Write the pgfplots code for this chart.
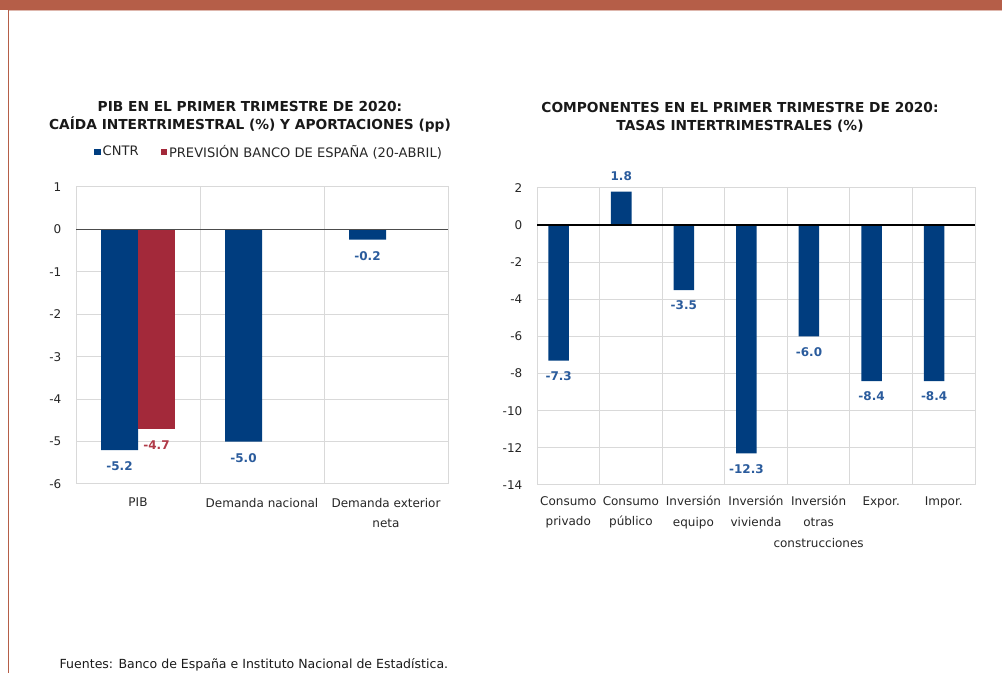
\documentclass[border=0pt]{standalone}
\usepackage{fontspec}
\setmainfont{DejaVu Sans}
\usepackage{pgfplots}
\pgfplotsset{compat=1.18}
\definecolor{cblue}{HTML}{003D7F}
\definecolor{cred}{HTML}{A3293A}
\definecolor{lblue}{HTML}{2A5B9C}
\definecolor{lred}{HTML}{B03A48}
\definecolor{framec}{HTML}{B55E48}
\definecolor{gridc}{HTML}{D9D9D9}
\definecolor{txt}{HTML}{262626}
\pgfplotsset{
  mybase/.style={
    scale only axis,
    ybar,
    axis line style={gridc, line width=0.75pt},
    grid style={gridc, line width=0.75pt},
    ymajorgrids=true, xmajorgrids=false, xminorgrids=true,
    major tick length=0pt, minor tick length=0pt,
    tick label style={font=\fontsize{9}{15}\selectfont, text=txt},
    /pgf/number format/assume math mode=true,
    yticklabel style={xshift=-7.5pt},
    nodes near coords={\pgfmathprintnumber[fixed,fixed zerofill,precision=1,assume math mode=true]{\pgfplotspointmeta}},
    clip=false,
  }
}
\begin{document}
\begin{tikzpicture}[x=0.75pt,y=0.75pt]
\useasboundingbox (0,0) rectangle (1002,673);
% frame
\fill[framec] (0,663) rectangle (1002,673);
\fill[framec!45] (9,662) rectangle (1002,663);
\fill[framec] (7.5,0) rectangle (9,663);

% titles
\node[font=\bfseries\fontsize{10.3}{13.5}\selectfont, align=center, text=black!90] at (250,556)
  {PIB EN EL PRIMER TRIMESTRE DE 2020:\\CAÍDA INTERTRIMESTRAL (\%) Y APORTACIONES (pp)};
\node[font=\bfseries\fontsize{10.3}{13.5}\selectfont, align=center, text=black!90] at (740,556)
  {COMPONENTES EN EL PRIMER TRIMESTRE DE 2020:\\TASAS INTERTRIMESTRALES (\%)};

% left chart
\begin{axis}[mybase,
  at={(57pt,141.75pt)}, anchor=south west,
  width=279pt, height=222.75pt,
  xmin=-0.5, xmax=2.5, ymin=-6, ymax=1,
  ytick={-6,-5,...,1},
  xtick={0,1,2}, minor xtick={0.5,1.5},
  xticklabels={PIB, Demanda nacional, Demanda exterior\\neta},
  xticklabel style={align=center, yshift=-7pt},
  bar width=27.75pt,
  nodes near coords style={font=\bfseries\fontsize{9}{10}\selectfont, inner ysep=8.6pt},
  legend image code/.code={\draw[#1, draw=none] (0pt,-2.4pt) rectangle (4.8pt,2.4pt);},
  legend style={at={(0.0484,1.1178)}, anchor=west, draw=none, fill=none, inner sep=0pt,
    font=\fontsize{9.8}{11}\selectfont, text=txt,
    /tikz/every even column/.append style={column sep=15pt},
    nodes={inner xsep=1.5pt}},
  legend columns=2, legend cell align=left,
]
\addplot[fill=cblue, draw=none, bar shift=-13.875pt, nodes near coords style={text=lblue}]
  coordinates {(0,-5.2) (1,-5.0) (2,-0.24)};
\addplot[fill=cred, draw=none, bar shift=13.875pt, nodes near coords style={text=lred}]
  coordinates {(0,-4.7)};
\legend{CNTR, PREVISIÓN BANCO DE ESPAÑA (20-ABRIL)}
\draw[black!70, line width=1.1pt] (axis cs:-0.5,0) -- (axis cs:2.5,0);
\end{axis}

% right chart
\begin{axis}[mybase,
  at={(402.75pt,141pt)}, anchor=south west,
  width=328.5pt, height=222.75pt,
  xmin=-0.5, xmax=6.5, ymin=-14, ymax=2,
  ytick={-14,-12,...,2},
  xtick={0,...,6}, minor xtick={0.5,1.5,2.5,3.5,4.5,5.5},
  xticklabels={Consumo\\privado, Consumo\\público, Inversión\\equipo, Inversión\\vivienda, Inversión\\otras\\construcciones, Expor., Impor.},
  xticklabel style={align=center, yshift=-5pt, font=\fontsize{9}{15.5}\selectfont},
  bar width=15.4pt,
  nodes near coords style={font=\bfseries\fontsize{9}{10}\selectfont, inner ysep=8pt},
]
\addplot[fill=cblue, draw=none, bar shift=-7.2pt, nodes near coords style={text=lblue}]
  coordinates {(0,-7.3) (1,1.8) (2,-3.5) (3,-12.3) (4,-6.0) (5,-8.4) (6,-8.4)};
\draw[black, line width=1.1pt] (axis cs:-0.5,0) -- (axis cs:6.5,0);
\end{axis}

% footer
\node[anchor=west, font=\fontsize{9.4}{11}\selectfont, text=black!90] at (55,8)
  {Fuentes: Banco de España e Instituto Nacional de Estadística.};
\end{tikzpicture}
\end{document}
